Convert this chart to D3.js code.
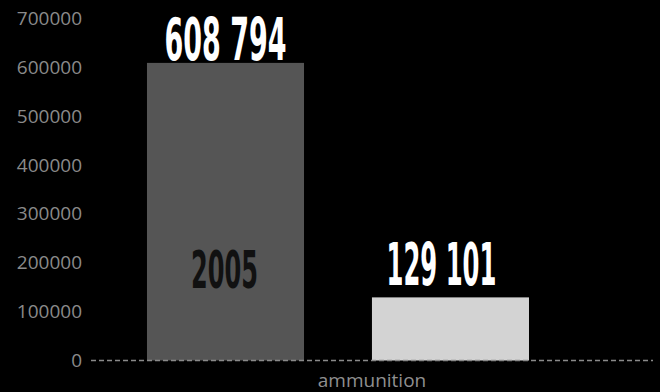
<!DOCTYPE html>
<html>
<head>
<meta charset="utf-8">
<script src="https://cdn.jsdelivr.net/npm/d3@7"></script>
<style>
  html, body { margin: 0; padding: 0; background: #000; }
  svg { display: block; }
</style>
</head>
<body>
<svg id="chart" width="660" height="392"></svg>
<script>
// ---- data ----
const categories = ["ammunition"];
const seriesNames = ["2005", "2016"];
const seriesLabels = ["2005", ""];
const values = [608794, 129101];
const valueLabels = ["608 794", "129 101"];
const yTicks = [0, 100000, 200000, 300000, 400000, 500000, 600000, 700000];
const barColors = ["#555555", "#d3d3d3"];

// ---- layout ----
const W = 660, H = 392;
const plotLeft = 91, plotRight = 653, plotTop = 18.3, plotBottom = 360.5;

const svg = d3.select("#chart");
svg.append("rect").attr("width", W).attr("height", H).attr("fill", "#000");

const y = d3.scaleLinear().domain([0, 700000]).range([plotBottom, plotTop]);
const x0 = d3.scaleBand().domain(categories).range([plotLeft, plotRight]).padding(0);
const x1 = d3.scaleBand().domain(seriesNames).range([0, x0.bandwidth()])
  .paddingInner(0.302).paddingOuter(0.4).align(0.311);

// y axis
const yAxis = d3.axisLeft(y).tickValues(yTicks).tickSize(0).tickPadding(9)
  .tickFormat(d3.format("d"));
const gy = svg.append("g").attr("transform", `translate(${plotLeft},0)`).call(yAxis);
gy.select(".domain").remove();
gy.selectAll("text")
  .attr("fill", "#8a8a8a")
  .style("font-family", "'Open Sans', 'Noto Sans', sans-serif")
  .style("font-size", "19px");

// bars
const data = seriesNames.map((s, i) => ({
  cat: categories[0], series: s, value: values[i], label: valueLabels[i],
  name: seriesLabels[i], color: barColors[i]
}));

const g = svg.append("g");
g.selectAll("rect.bar").data(data).join("rect")
  .attr("class", "bar")
  .attr("x", d => x0(d.cat) + x1(d.series))
  .attr("y", d => y(d.value))
  .attr("width", x1.bandwidth())
  .attr("height", d => y(0) - y(d.value))
  .attr("fill", d => d.color);

// value labels (condensed bold)
const labelCap = 42;
g.selectAll("text.val").data(data).join("text")
  .attr("class", "val")
  .attr("x", (d, i) => x0(d.cat) + x1(d.series) + x1.bandwidth() / 2 + (i === 1 ? -9 : 0))
  .attr("y", d => Math.max(y(d.value) - 12.7, plotTop + labelCap))
  .attr("text-anchor", "middle")
  .attr("fill", "#ffffff")
  .attr("textLength", (d, i) => i === 0 ? 122 : 110)
  .attr("lengthAdjust", "spacingAndGlyphs")
  .style("font-family", "'Liberation Sans Narrow', 'DejaVu Sans Condensed', 'Liberation Sans', sans-serif")
  .style("font-weight", "bold")
  .style("font-size", "58.5px")
  .text(d => d.label);

// series name label inside bar
g.selectAll("text.name").data(data.filter(d => d.name)).join("text")
  .attr("class", "name")
  .attr("x", d => x0(d.cat) + x1(d.series) + x1.bandwidth() / 2 - 1)
  .attr("y", y(0) - 72.2)
  .attr("text-anchor", "middle")
  .attr("fill", "#111111")
  .attr("textLength", 67)
  .attr("lengthAdjust", "spacingAndGlyphs")
  .style("font-family", "'Liberation Sans Narrow', 'DejaVu Sans Condensed', 'Liberation Sans', sans-serif")
  .style("font-weight", "bold")
  .style("font-size", "51px")
  .text(d => d.name);

// dashed baseline
svg.append("line")
  .attr("x1", plotLeft).attr("x2", plotRight)
  .attr("y1", y(0)).attr("y2", y(0))
  .attr("stroke", "#8a8a8a").attr("stroke-width", 1.5)
  .attr("stroke-dasharray", "5,3");

// category label
svg.selectAll("text.cat").data(categories).join("text")
  .attr("class", "cat")
  .attr("x", d => x0(d) + x0.bandwidth() / 2)
  .attr("y", 387)
  .attr("text-anchor", "middle")
  .attr("fill", "#8f8f8f")
  .style("font-family", "'Open Sans', 'Noto Sans', sans-serif")
  .style("font-size", "19px")
  .text(d => d);
</script>
</body>
</html>
